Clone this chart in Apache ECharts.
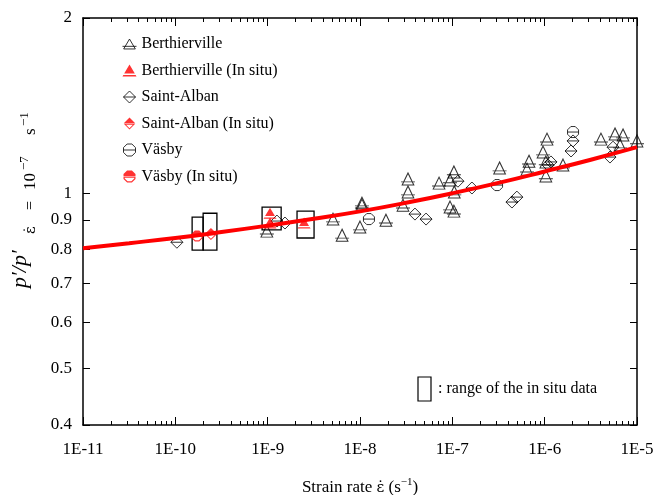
<!DOCTYPE html>
<html>
<head>
<meta charset="utf-8">
<title>p'/p' vs strain rate</title>
<script src="https://cdn.jsdelivr.net/npm/echarts@6/dist/echarts.min.js"></script>
<style>
    html, body { margin: 0; height: 100%; background: #fff; }
    #main { width: 658px; height: 495px; }
</style>
</head>
<body>
<div id="main"></div>
<script>
    // values: [strain rate (1/s), p'/p' normalised at 1e-7 1/s]
    var berthierville = [
        [9.8e-10, 0.861], [5.1e-9, 0.903], [6.4e-9, 0.847], [1.0e-8, 0.875], [1.05e-8, 0.962],
        [1.05e-8, 0.954], [1.91e-8, 0.899], [2.92e-8, 0.954], [3.31e-8, 1.005], [3.31e-8, 1.058],
        [7.18e-8, 1.041], [9.44e-8, 1.054], [1.04e-7, 1.088], [1.05e-7, 1.005], [9.44e-8, 0.947],
        [1.04e-7, 0.932], [3.25e-7, 1.105], [6.77e-7, 1.135], [6.44e-7, 1.10], [1.06e-6, 1.239],
        [9.6e-7, 1.177], [1.03e-6, 1.132], [1.03e-6, 1.071], [1.58e-6, 1.118], [4.07e-6, 1.239],
        [5.78e-6, 1.264], [7.06e-6, 1.259], [6.55e-6, 1.21], [1e-5, 1.23]
    ];
    var berthiervilleInSitu = [[1.06e-9, 0.924], [1.06e-9, 0.889], [2.48e-9, 0.889]];
    var saintAlban = [
        [1.04e-10, 0.824], [1.26e-9, 0.896], [1.54e-9, 0.889], [3.94e-8, 0.921], [5.19e-8, 0.903],
        [1.15e-7, 1.049], [1.63e-7, 1.021], [4.42e-7, 0.966], [5.0e-7, 0.985], [1.17e-6, 1.132],
        [1.09e-6, 1.118], [1.93e-6, 1.182], [2.03e-6, 1.23], [5.5e-6, 1.20], [5.1e-6, 1.154]
    ];
    var saintAlbanInSitu = [[2.43e-10, 0.851]];
    var vasby = [[1.25e-8, 0.903], [3.05e-7, 1.033], [2.03e-6, 1.274]];
    var vasbyInSitu = [[1.72e-10, 0.845]];

    // in situ ranges: [rate min, rate max, ratio min, ratio max]
    var inSituBoxes = [
        [1.52e-10, 2.0e-10, 0.799, 0.910],
        [2.0e-10, 2.82e-10, 0.799, 0.924],
        [8.7e-10, 1.40e-9, 0.865, 0.947],
        [2.08e-9, 3.18e-9, 0.838, 0.932]
    ];

    // fitted red curve
    var curveRate = [1e-11, 3.16e-11, 1e-10, 3.16e-10, 1e-9, 3.16e-9, 1e-8, 3.16e-8, 1e-7, 3.16e-7, 1e-6, 3.16e-6, 1e-5];
    var curveRatio = [0.805, 0.821, 0.838, 0.858, 0.880, 0.904, 0.931, 0.963, 1.0, 1.042, 1.09, 1.142, 1.20];

    var xTickExps = [-11, -10, -9, -8, -7, -6, -5];
    var yTickVals = [0.4, 0.5, 0.6, 0.7, 0.8, 0.9, 1, 2];

    var lg = function (v) { return Math.log(v) / Math.LN10; };
    var toLog = function (arr) { return arr.map(function (p) { return [lg(p[0]), lg(p[1])]; }); };

    var xMinor = [];
    for (var e = -11; e < -5; e++) {
        for (var k = 2; k <= 9; k++) xMinor.push(e + lg(k));
    }
    var yMajor = yTickVals.map(lg);
    var curveData = curveRate.map(function (r, i) { return [lg(r), lg(curveRatio[i])]; });

    var SERIF = '"Liberation Serif", "DejaVu Serif", serif';
    var DJV = '"DejaVu Serif", serif';

    // marker shapes
    var triOpen = 'path://M0,0L10,17L-10,17Z M-12,12.5L12,12.5';
    var diaOpen = 'path://M0,-10L10,0L0,10L-10,0Z M-10,0L10,0';
    var hexOpen = 'path://M-4,-10L4,-10L10,-4L10,4L4,10L-4,10L-10,4L-10,-4Z M-10,0L10,0';
    var triRed = 'path://M0,0L7.6,12.9L-7.6,12.9Z M-8.8,14.9L8.8,14.9L10,17L-10,17Z';
    var diaRed = 'path://M-10,-0.5L0,-10.5L10,-0.5Z M-10,0.5L10,0.5L0,10.5Z M-6,2.1L0,8.1L6,2.1Z';
    var hexRed = 'path://M-10,-0.5L-10,-4L-4,-10L4,-10L10,-4L10,-0.5Z M-10,0.5L10,0.5L10,4L4,10L-4,10L-10,4Z M-8,2L-8,3.2L-3.2,8L3.2,8L8,3.2L8,2Z';

    var openStyle = { color: 'rgba(0,0,0,0)', borderColor: '#000', borderWidth: 1 };
    var redStyle = { color: '#ff0000', borderWidth: 0 };

    function scatter(name, data, symbol, size, style) {
        return {
            name: name, type: 'scatter', xAxisIndex: 0, yAxisIndex: 0,
            data: toLog(data), symbol: symbol, symbolSize: size,
            itemStyle: style, emphasis: { disabled: true }, z: 3
        };
    }

    function label(text, x, y, size, family) {
        return {
            type: 'text', x: x, y: y,
            style: { text: text, font: size + 'px ' + (family || SERIF), fill: '#000', verticalAlign: 'middle', align: 'left' }
        };
    }

    var chart = echarts.init(document.getElementById('main'));

    var tickLine = { color: '#000', width: 1 };
    var axisLine = { show: true, onZero: false, lineStyle: { color: '#000', width: 1.5 } };
    var gridBox = { left: 83, right: 21, top: 18, bottom: 70, containLabel: false, outerBoundsMode: 'none' };

    var option = {
        animation: false,
        backgroundColor: '#fff',
        textStyle: { fontFamily: SERIF },
        grid: [gridBox, gridBox],
        legend: {
            orient: 'vertical', left: 117, top: 31, itemGap: 10.5,
            itemWidth: 14, itemHeight: 12,
            itemStyle: { borderWidth: 1 },
            textStyle: { fontFamily: SERIF, fontSize: 16, color: '#000' },
            data: ['Berthierville', 'Berthierville (In situ)', 'Saint-Alban',
                   'Saint-Alban (In situ)', 'Väsby', 'Väsby (In situ)']
        },
        xAxis: [
            {
                gridIndex: 0, type: 'value', position: 'bottom', min: -11, max: -5,
                axisLine: axisLine,
                axisTick: { inside: true, length: 8, lineStyle: tickLine, customValues: xTickExps },
                axisLabel: {
                    customValues: xTickExps, margin: 16,
                    fontFamily: SERIF, fontSize: 17, color: '#000',
                    formatter: function (v) { return '1E' + Math.round(v); }
                },
                splitLine: { show: false },
                name: '{a|Strain rate }{e|ε̇}{a| (s}{b|−1}{a|)}',
                nameLocation: 'middle', nameGap: 52,
                nameTextStyle: {
                    rich: {
                        a: { fontFamily: SERIF, fontSize: 17, color: '#000', lineHeight: 22 },
                        e: { fontFamily: DJV, fontSize: 15, color: '#000', lineHeight: 22 },
                        b: { fontFamily: SERIF, fontSize: 11, color: '#000', verticalAlign: 'top', lineHeight: 22 }
                    }
                }
            },
            {
                gridIndex: 0, type: 'value', position: 'top', min: -11, max: -5,
                axisLine: axisLine,
                axisTick: { inside: true, length: 8, lineStyle: tickLine, customValues: xTickExps },
                axisLabel: { show: false },
                splitLine: { show: false }
            },
            {
                gridIndex: 1, type: 'value', position: 'bottom', min: -11, max: -5,
                axisLine: { show: false, onZero: false },
                axisTick: { inside: true, length: 4, lineStyle: tickLine, customValues: xMinor },
                axisLabel: { show: false },
                splitLine: { show: false }
            },
            {
                gridIndex: 1, type: 'value', position: 'top', min: -11, max: -5,
                axisLine: { show: false, onZero: false },
                axisTick: { inside: true, length: 4, lineStyle: tickLine, customValues: xMinor },
                axisLabel: { show: false },
                splitLine: { show: false }
            }
        ],
        yAxis: [
            {
                gridIndex: 0, type: 'value', position: 'left', min: lg(0.4), max: lg(2),
                axisLine: axisLine,
                axisTick: { inside: true, length: 7, lineStyle: tickLine, customValues: yMajor },
                axisLabel: {
                    customValues: yMajor, margin: 11,
                    fontFamily: SERIF, fontSize: 17, color: '#000',
                    formatter: function (v) { return String(+Math.pow(10, v).toFixed(1)); }
                },
                splitLine: { show: false }
            },
            {
                gridIndex: 0, type: 'value', position: 'right', min: lg(0.4), max: lg(2),
                axisLine: axisLine,
                axisTick: { inside: true, length: 7, lineStyle: tickLine, customValues: yMajor },
                axisLabel: { show: false },
                splitLine: { show: false }
            },
            {
                gridIndex: 1, type: 'value', min: lg(0.4), max: lg(2), show: false,
                axisLine: { onZero: false }
            }
        ],
        graphic: [
            {
                // rotated y-axis title: p'/p' with subscript "ε̇ = 10^-7 s^-1"
                type: 'group', x: 20, y: 197, rotation: Math.PI / 2,
                children: [
                    {
                        type: 'text', x: -91, y: 0,
                        style: { text: 'p′/p′', font: 'italic 22px ' + SERIF, fill: '#000',
                                 verticalAlign: 'middle', align: 'left' }
                    },
                    label('ε̇', -37, 11, 15, DJV),
                    label('=', -13, 11, 16),
                    label('10', 7, 11, 17),
                    label('−7', 27, 5, 13),
                    label('s', 62, 11, 17),
                    label('−1', 71, 5, 13)
                ]
            },
            {
                type: 'rect', shape: { x: 418, y: 377, width: 13, height: 24 },
                style: { fill: 'none', stroke: '#000', lineWidth: 1.2 }
            },
            {
                type: 'text', x: 438, y: 389,
                style: { text: ': range of the in situ data', font: '16px ' + SERIF, fill: '#000', verticalAlign: 'middle' }
            }
        ],
        series: [
            {
                name: 'range', type: 'custom', xAxisIndex: 0, yAxisIndex: 0, z: 2,
                data: inSituBoxes.map(function (b) { return [lg(b[0]), lg(b[1]), lg(b[2]), lg(b[3])]; }),
                renderItem: function (params, api) {
                    var p0 = api.coord([api.value(0), api.value(3)]);
                    var p1 = api.coord([api.value(1), api.value(2)]);
                    return {
                        type: 'rect',
                        shape: { x: p0[0], y: p0[1], width: p1[0] - p0[0], height: p1[1] - p0[1] },
                        style: { fill: 'none', stroke: '#000', lineWidth: 1.3 }
                    };
                }
            },
            scatter('Berthierville', berthierville, triOpen, [14, 12], openStyle),
            scatter('Saint-Alban', saintAlban, diaOpen, [12, 12], openStyle),
            scatter('Väsby', vasby, hexOpen, [11, 11], openStyle),
            scatter('Berthierville (In situ)', berthiervilleInSitu, triRed, [13, 11], redStyle),
            scatter('Saint-Alban (In situ)', saintAlbanInSitu, diaRed, [12, 12], redStyle),
            scatter('Väsby (In situ)', vasbyInSitu, hexRed, [11, 11], redStyle),
            {
                name: 'fit', type: 'line', xAxisIndex: 0, yAxisIndex: 0, z: 4,
                data: curveData, smooth: true, showSymbol: false, symbol: 'none',
                lineStyle: { color: '#ff0000', width: 4 }
            }
        ]
    };

    chart.setOption(option);
</script>
</body>
</html>
